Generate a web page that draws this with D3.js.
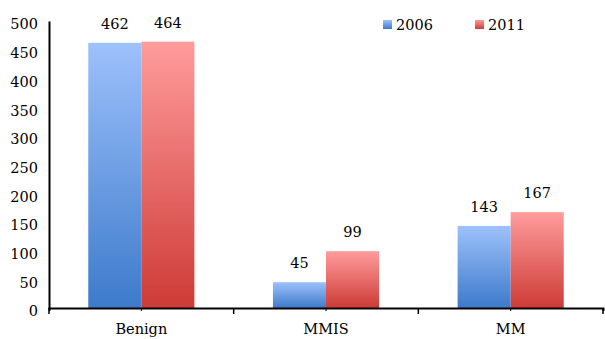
<!DOCTYPE html>
<html>
<head>
<meta charset="utf-8">
<script src="https://cdn.jsdelivr.net/npm/d3@7"></script>
<style>
  body { margin: 0; background: #fff; }
  text { font-family: "DejaVu Serif", serif; font-size: 14.5px; fill: #000; }
</style>
</head>
<body>
<svg id="chart"></svg>
<script>
// data
var categories = ["Benign", "MMIS", "MM"];
var seriesNames = ["2006", "2011"];
var values2006 = [462, 45, 143];
var values2011 = [464, 99, 167];
var yTicks = [0, 50, 100, 150, 200, 250, 300, 350, 400, 450, 500];

var width = 605, height = 339;
var margin = {top: 21, right: 2, bottom: 31, left: 49};

var svg = d3.select("#chart").attr("width", width).attr("height", height);

// gradients
var defs = svg.append("defs");
var grads = [
  {id: "g2006", top: "#9dc1fb", bottom: "#3d7acb"},
  {id: "g2011", top: "#ff9c9c", bottom: "#cd3b36"}
];
grads.forEach(function(g) {
  var lg = defs.append("linearGradient").attr("id", g.id)
    .attr("x1", 0).attr("y1", 0).attr("x2", 0).attr("y2", 1);
  lg.append("stop").attr("offset", "0%").attr("stop-color", g.top);
  lg.append("stop").attr("offset", "100%").attr("stop-color", g.bottom);
});
defs.append("filter").attr("id", "soft")
  .append("feGaussianBlur").attr("stdDeviation", 0.5);

var x0 = d3.scaleBand().domain(categories)
  .range([margin.left, width - margin.right]).padding(0);
var x1 = d3.scaleBand().domain(seriesNames)
  .range([0, x0.bandwidth()]).paddingInner(0).paddingOuter(0.74);
var y = d3.scaleLinear().domain([0, 500]).range([height - margin.bottom, margin.top]);

var rows = categories.map(function(c, i) {
  return {cat: c, vals: [values2006[i], values2011[i]]};
});

// bars
var groups = svg.selectAll("g.grp").data(rows).enter().append("g")
  .attr("class", "grp")
  .attr("transform", function(d) { return "translate(" + x0(d.cat) + ",0)"; });

groups.selectAll("rect").data(function(d) {
  return d.vals.map(function(v, j) { return {s: seriesNames[j], v: v, j: j}; });
}).enter().append("rect")
  .attr("x", function(d) { return x1(d.s); })
  .attr("y", function(d) { return y(d.v); })
  .attr("width", x1.bandwidth())
  .attr("height", function(d) { return y(0) - y(d.v); })
  .attr("fill", function(d) { return "url(#" + grads[d.j].id + ")"; })
  .attr("filter", "url(#soft)");

groups.selectAll("text.val").data(function(d) {
  return d.vals.map(function(v, j) { return {s: seriesNames[j], v: v}; });
}).enter().append("text")
  .attr("class", "val")
  .attr("x", function(d) { return x1(d.s) + x1.bandwidth() / 2; })
  .attr("y", function(d) { return y(d.v) - 14; })
  .attr("text-anchor", "middle")
  .text(function(d) { return d.v; });

// y axis
var yAxis = svg.append("g")
  .attr("transform", "translate(" + margin.left + ",0)")
  .call(d3.axisLeft(y).tickValues(yTicks).tickSize(0).tickPadding(11));
yAxis.select(".domain").attr("stroke", "#000").attr("stroke-width", 2);
yAxis.selectAll("text").attr("dy", "0.55em")
  .style("font-family", "DejaVu Serif").style("font-size", "14.5px").attr("fill", "#000");

// x axis
var xAxis = svg.append("g")
  .attr("transform", "translate(0," + y(0) + ")")
  .call(d3.axisBottom(x0).tickSize(3).tickPadding(13));
xAxis.select(".domain").attr("stroke", "#000").attr("stroke-width", 2);
xAxis.selectAll(".tick line").attr("stroke", "#000").attr("stroke-width", 1);
xAxis.selectAll("text")
  .style("font-family", "DejaVu Serif").style("font-size", "14.5px").attr("fill", "#000");

// category boundary ticks
var bounds = categories.map(function(c) { return x0(c); }).concat([x0.range()[1]]);
svg.append("g").selectAll("line").data(bounds).enter().append("line")
  .attr("x1", function(d) { return d; }).attr("x2", function(d) { return d; })
  .attr("y1", y(0)).attr("y2", y(0) + 6)
  .attr("stroke", "#000").attr("stroke-width", 1.5);

// legend
var legend = svg.append("g").attr("transform", "translate(383,20)");
var items = legend.selectAll("g").data(seriesNames).enter().append("g")
  .attr("transform", function(d, i) { return "translate(" + (i * 92) + ",0)"; });
items.append("rect").attr("width", 9).attr("height", 9)
  .attr("fill", function(d, i) { return "url(#" + grads[i].id + ")"; });
items.append("text").attr("x", 13).attr("y", 9.5).text(function(d) { return d; });
</script>
</body>
</html>
